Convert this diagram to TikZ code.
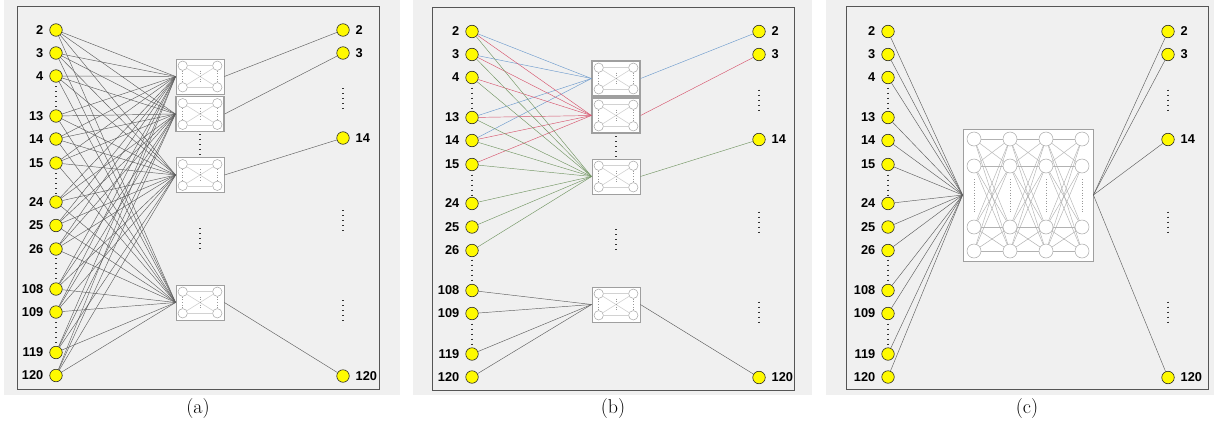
\documentclass[tikz,border=0pt]{standalone}
\usepackage{fontspec}
\setsansfont{Liberation Sans}
\usetikzlibrary{calc}
\definecolor{panelbg}{RGB}{240,240,240}
\definecolor{frame}{RGB}{85,85,85}
\definecolor{cblue}{RGB}{110,155,205}
\definecolor{cred}{RGB}{215,85,110}
\definecolor{cgreen}{RGB}{115,150,100}
\definecolor{cgray}{RGB}{95,95,95}
\definecolor{nyellow}{RGB}{255,250,0}
\tikzset{
  pt/.style={circle,draw=black!85,fill=nyellow,minimum size=12.5pt,inner sep=0pt,line width=0.6pt},
  lab/.style={font=\sffamily\bfseries\fontsize{12.8}{14}\selectfont,inner sep=0pt},
  conn/.style={draw=cgray,line width=0.45pt},
  mbox/.style={rectangle,draw=gray!75,fill=white,minimum width=48pt,minimum height=35pt,inner sep=0pt,line width=0.8pt},
  bigbox/.style={rectangle,draw=gray!75,fill=white,minimum width=130pt,minimum height=132pt,inner sep=0pt,line width=0.8pt},
  mcirc/.style={circle,draw=gray!70,fill=white,minimum size=9.4pt,inner sep=0pt,line width=0.5pt},
  bcirc/.style={circle,draw=gray!70,fill=white,minimum size=14pt,inner sep=0pt,line width=0.5pt},
  inner/.style={draw=gray!35,line width=0.6pt},
  vdots/.style={draw=black!80,line width=1.1pt,dash pattern=on 1.1pt off 3.9pt},
  idots/.style={draw=gray!80,line width=0.7pt,dash pattern=on 0.7pt off 2pt},
  captxt/.style={font=\fontsize{20}{22}\selectfont,inner sep=0pt}
}
\newcommand\drawpanel[4]{% prefix, left x, right x, dy
  \foreach \n/\y in {2/30,3/53,4/76,13/116,14/139,15/163,24/202,25/225.5,26/249,108/289,109/312,119/352.5,120/375.5}{
    \node[pt] (#1L\n) at (#2,\y+#4) {};
    \node[lab,anchor=east] (#1Lt\n) at (#2-12.5,\y+#4) {\n};
  }
  \foreach \n/\y in {2/30,3/53,14/138,120/376}{
    \node[pt] (#1R\n) at (#3,\y+#4) {};
    \node[lab,anchor=west] (#1Rt\n) at (#3+12.5,\y+#4) {\n};
  }
  \foreach \ya/\yb in {86/108,173/196,258/279,322/344}{
    \draw[vdots] (#2,\ya+#4) -- (#2,\yb+#4);
  }
  \foreach \ya/\yb in {88/109,210/231,300/321}{
    \draw[vdots] (#3,\ya+#4) -- (#3,\yb+#4);
  }
}
\newcommand\minibox[4]{% name, x, y, border width
  \node[mbox,line width=#4] (#1) at (#2,#3) {};
  \node[mcirc] (#1tl) at (#2-17.3,#3-10.8) {};
  \node[mcirc] (#1tr) at (#2+17.3,#3-10.8) {};
  \node[mcirc] (#1bl) at (#2-17.3,#3+10.8) {};
  \node[mcirc] (#1br) at (#2+17.3,#3+10.8) {};
  \draw[inner] (#1tl) -- (#1tr);
  \draw[inner] (#1bl) -- (#1br);
  \draw[inner] (#1tl) -- (#1br);
  \draw[inner] (#1tr) -- (#1bl);
  \draw[idots] (#1tl) -- (#1bl);
  \draw[idots] (#1tr) -- (#1br);
  \draw[idots] (#2,#3-6) -- (#2,#3+6);
}
\begin{document}
\begin{tikzpicture}[x=1pt,y=-1pt]
\useasboundingbox (0,0) rectangle (1214,426);
\fill[white] (0,0) rectangle (1214,426);
% panel backgrounds
\fill[panelbg] (4,0) rectangle (400,395);
\fill[panelbg] (413,0) rectangle (812,395);
\fill[panelbg] (826,0) rectangle (1214,395);
\draw[frame,line width=0.9pt] (17,6) rectangle (379,389);
\draw[frame,line width=0.9pt] (432,7) rectangle (794,390);
\draw[frame,line width=0.9pt] (846,6) rectangle (1208,389);

% ===== panel (a)
\minibox{aB1}{200}{76.5}{0.8pt}
\minibox{aB2}{200}{114}{1.2pt}
\minibox{aB3}{200}{175}{0.8pt}
\minibox{aB4}{200}{302.5}{0.8pt}
\draw[vdots] (200,134) -- (200,155);
\draw[vdots] (200,228) -- (200,249);
\drawpanel{a}{56}{343}{0}
\foreach \n in {2,3,4,13,14,15,24,25,26,108,109,119,120}{
  \foreach \b in {1,2,3,4}{
    \draw[conn] (aL\n) -- (aB\b.west);
  }
}
\draw[conn] (aB1.east) -- (aR2);
\draw[conn] (aB2.east) -- (aR3);
\draw[conn] (aB3.east) -- (aR14);
\draw[conn] (aB4.east) -- (aR120);
\node[captxt] (capa) at (198,409) {(a)};

% ===== panel (b)
\minibox{bB1}{616}{78.5}{1.2pt}
\minibox{bB2}{616}{115.5}{1.2pt}
\minibox{bB3}{616}{176.5}{0.8pt}
\minibox{bB4}{616}{304.5}{0.8pt}
\draw[vdots] (616,136) -- (616,157);
\draw[vdots] (616,229) -- (616,250);
\drawpanel{b}{472}{759}{1.5}
\foreach \n in {2,3,13,14}{\draw[conn,draw=cblue] (bL\n) -- (bB1.west);}
\foreach \n in {2,3,4,13,14,15}{\draw[conn,draw=cred] (bL\n) -- (bB2.west);}
\foreach \n in {2,3,4,13,14,15,24,25,26}{\draw[conn,draw=cgreen] (bL\n) -- (bB3.west);}
\foreach \n in {108,109,119,120}{\draw[conn] (bL\n) -- (bB4.west);}
\draw[conn,draw=cblue] (bB1.east) -- (bR2);
\draw[conn,draw=cred] (bB2.east) -- (bR3);
\draw[conn,draw=cgreen] (bB3.east) -- (bR14);
\draw[conn] (bB4.east) -- (bR120);
\node[captxt] (capb) at (613,409) {(b)};

% ===== panel (c)
\node[bigbox] (cBig) at (1028,195) {};
\foreach \i/\x in {1/974,2/1010,3/1046,4/1082}{
  \foreach \j/\y in {1/139,2/166,3/227,4/251}{
    \node[bcirc] (cN\i\j) at (\x,\y) {};
  }
  \draw[idots] (\x,179) -- (\x,213);
}
\foreach \i/\k in {1/2,2/3,3/4}{
  \foreach \j in {1,2,3,4}{
    \foreach \m in {1,2,3,4}{
      \draw[inner,draw=gray!60,line width=0.45pt] (cN\i\j) -- (cN\k\m);
    }
  }
}
\drawpanel{c}{888}{1168}{1.5}
\foreach \n in {2,3,4,13,14,15,24,25,26,108,109,119,120}{
  \draw[conn] (cL\n) -- (cBig.west);
}
\foreach \n in {2,3,14,120}{
  \draw[conn] (cBig.east) -- (cR\n);
}
\node[captxt] (capc) at (1027,409) {(c)};
\end{tikzpicture}
\end{document}
